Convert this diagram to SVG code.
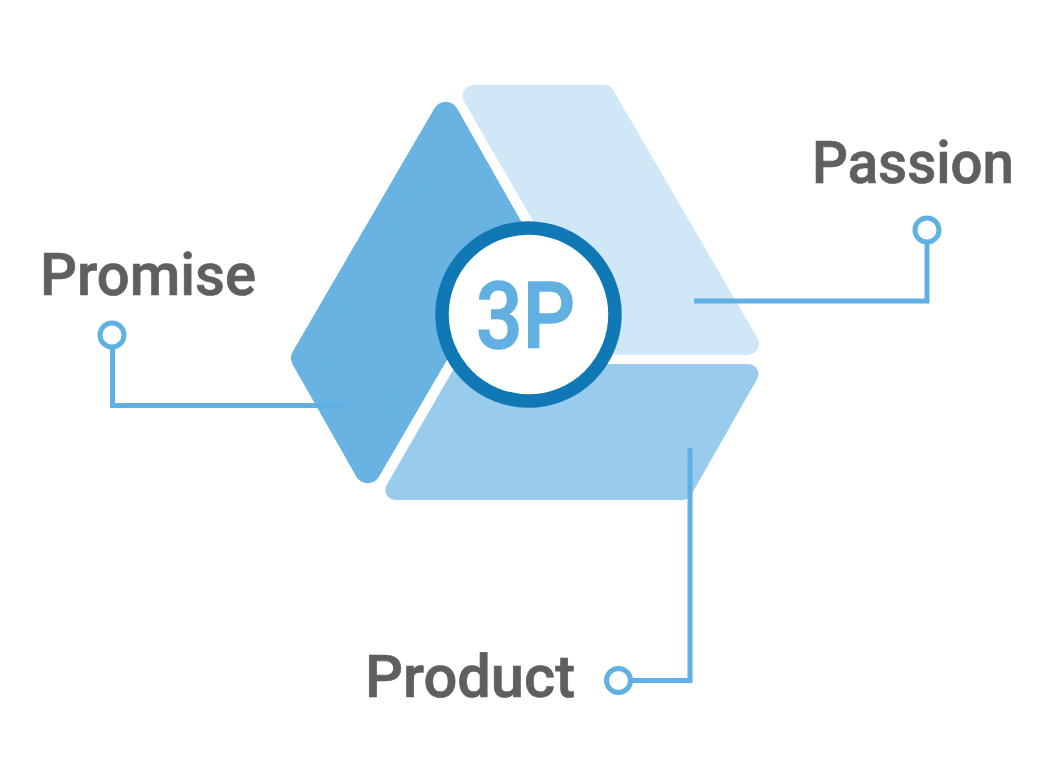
<svg xmlns="http://www.w3.org/2000/svg" width="1049" height="768" viewBox="0 0 1049 768">
<style>
.label{font-family:"Roboto","Liberation Sans",sans-serif;font-weight:500;font-size:60px;fill:#5f5f5f;stroke:#5f5f5f;stroke-width:0.7}
.wire{fill:none;stroke:#5fb0e3;stroke-width:5}
.dot{fill:#fff;stroke:#5fb0e3;stroke-width:5}
.shape{stroke-linejoin:round}
</style>
<rect width="1049" height="768" fill="#fff"/>
<g id="promise"><polygon class="shape" fill="#68b3e2" stroke="#68b3e2" stroke-width="26" points="445.700,114.700 509.400,227 367.700,470.300 304,358"/></g>
<g id="passion"><polygon class="shape" fill="#d0e7f7" stroke="#d0e7f7" stroke-width="22" points="473.550,96 604.050,96 747.950,343.700 616.550,343.700"/></g>
<g id="product"><polygon class="shape" fill="#99cbec" stroke="#99cbec" stroke-width="20" points="462.300,374 748.400,374 682.400,490 395.300,490"/></g>
<g id="connectors">
<path class="wire" d="M112.500 347V405.500H345"/>
<path class="wire" d="M927 242V301H694"/>
<path class="wire" d="M631 680.500H690V448"/>
<circle class="dot" cx="112" cy="335" r="12"/>
<circle class="dot" cx="927" cy="230" r="12"/>
<circle class="dot" cx="618.500" cy="680.500" r="12"/>
</g>
<g id="center">
<circle cx="528.500" cy="314.500" r="86.500" fill="#fff" stroke="#0f78b5" stroke-width="13.500"/>
<text x="476" y="348" textLength="99" lengthAdjust="spacingAndGlyphs" font-family="Roboto,'Liberation Sans',sans-serif" font-weight="500" font-size="92" fill="#62b0e2" stroke="#62b0e2" stroke-width="1.500">3P</text>
</g>
<text class="label" x="40" y="295" textLength="216" lengthAdjust="spacingAndGlyphs">Promise</text>
<text class="label" x="812" y="183" textLength="202" lengthAdjust="spacingAndGlyphs">Passion</text>
<text class="label" x="365" y="697" textLength="210" lengthAdjust="spacingAndGlyphs">Product</text>
</svg>
